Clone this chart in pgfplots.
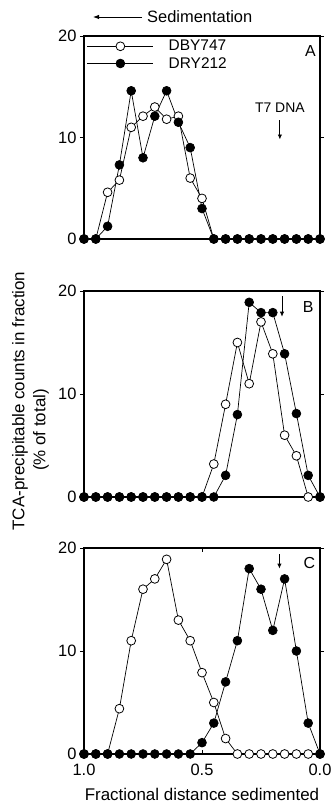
\documentclass[border=0pt]{standalone}
\usepackage{fontspec}
\setmainfont{Liberation Sans}
\usepackage{pgfplots}
\usepackage{pgfplotstable}
\pgfplotsset{compat=1.18}
\usetikzlibrary{arrows.meta}

\pgfplotstableread{
x    A1   A2   B1   B2   C1   C2
1.00 0    0    0    0    0    0
0.95 0    0    0    0    0    0
0.90 4.6  1.25 0    0    0    0
0.85 5.8  7.3  0    0    4.4  0
0.80 11.0 14.6 0    0    11.0 0
0.75 12.1 8.0  0    0    16.0 0
0.70 13.0 12.1 0    0    17.0 0
0.65 11.8 14.6 0    0    18.9 0
0.60 12.1 11.5 0    0    13.0 0
0.55 6.0  9.0  0    0    11.0 0
0.50 4.0  3.0  0    0    7.9  1.1
0.45 0    0    3.2  0    5.0  3.0
0.40 0    0    9.0  2.1  1.5  7.0
0.35 0    0    15.0 8.0  0    11.0
0.30 0    0    11.0 18.9 0    18.0
0.25 0    0    17.0 17.9 0    16.0
0.20 0    0    13.9 17.9 0    12.0
0.15 0    0    6.0  13.9 0    17.0
0.10 0    0    4.0  8.1  0    10.0
0.05 0    0    0    2.1  0    3.0
0.00 0    0    0    0    0    0
}\data

\pgfplotsset{
  panel/.style={
    scale only axis, width=236bp, x dir=reverse,
    xmin=0, xmax=1, ymin=0, ymax=20, clip=false,
    ytick={0,10,20}, xtick=\empty,
    axis line style={line width=1.1bp},
    tick style={black, line width=0.8bp},
    tick align=outside, major tick length=4bp,
    tick label style={font=\fontsize{16.5}{18}\selectfont},
    /pgf/number format/assume math mode=true,
  },
  open/.style={black, line width=0.7bp, mark=*, mark size=4.4bp,
    mark options={fill=white, line width=0.8bp, solid}},
  filled/.style={black, line width=0.7bp, mark=*, mark size=4.4bp,
    mark options={fill=black, solid}},
}

\begin{document}
\begin{tikzpicture}[x=1bp,y=1bp]
\useasboundingbox (0,0) rectangle (331,803);

% Panel A
\begin{axis}[panel, height=203bp, at={(84bp,564bp)}, anchor=south west,
  legend style={at={(0.012,0.985)}, anchor=north west, draw=none, fill=none,
    font=\fontsize{15.5}{16}\selectfont, row sep=3bp, inner sep=0pt,
    nodes={inner sep=1bp}},
  legend cell align=left,
  legend image code/.code={\draw[mark repeat=2,mark phase=2] plot coordinates {(0bp,0bp)(33bp,0bp)(66bp,0bp)};},
  legend style={/tikz/every even column/.append style={column sep=0bp}},
]
\addplot[open] table[x=x,y=A1]{\data};
\addlegendentry{\hspace{14bp}DBY747}
\addplot[filled] table[x=x,y=A2]{\data};
\addlegendentry{\hspace{14bp}DRY212}
\node[font=\fontsize{14}{16}\selectfont] at (axis cs:0.17,12.9) {T7 DNA};
\draw[line width=0.9bp,-{Latex[length=5bp,width=4.5bp]}] (axis cs:0.17,11.7) -- (axis cs:0.17,9.8);
\node[font=\fontsize{16}{18}\selectfont] at (axis cs:0.04,18.5) {A};
\end{axis}

% Panel B
\begin{axis}[panel, height=206bp, at={(84bp,306bp)}, anchor=south west]
\addplot[open] table[x=x,y=B1]{\data};
\addplot[filled] table[x=x,y=B2]{\data};
\draw[line width=0.9bp,-{Latex[length=5bp,width=4.5bp]}] (axis cs:0.161,19.5) -- (axis cs:0.161,17.5);
\node[font=\fontsize{16}{18}\selectfont] at (axis cs:0.05,18.45) {B};
\end{axis}

% Panel C
\begin{axis}[panel, height=206bp, at={(84bp,49bp)}, anchor=south west,
  xtick={0,0.5,1}, xticklabels={0.0,0.5,1.0}, xtick align=inside,
  xticklabel style={yshift=-7bp},
  xlabel={Fractional distance sedimented},
  xlabel style={font=\fontsize{17}{19}\selectfont, yshift=-5bp},
]
\addplot[open] table[x=x,y=C1]{\data};
\addplot[filled] table[x=x,y=C2]{\data};
\draw[line width=0.9bp,-{Latex[length=5bp,width=4.5bp]}] (axis cs:0.172,19.4) -- (axis cs:0.172,18.0);
\node[font=\fontsize{16}{18}\selectfont] at (axis cs:0.045,18.5) {C};
\end{axis}

% Outer labels
\draw[line width=0.9bp,-{Latex[length=6bp,width=4.5bp]}] (142,786) -- (93,786);
\node[anchor=west, font=\fontsize{16.5}{18}\selectfont, inner sep=0pt] at (147,786) {Sedimentation};
\node[rotate=90, font=\fontsize{17}{19}\selectfont, inner sep=0pt] at (20,402) {TCA-precipitable counts in fraction};
\node[rotate=90, font=\fontsize{17}{19}\selectfont, inner sep=0pt] at (41,373) {(\% of total)};
\end{tikzpicture}
\end{document}
